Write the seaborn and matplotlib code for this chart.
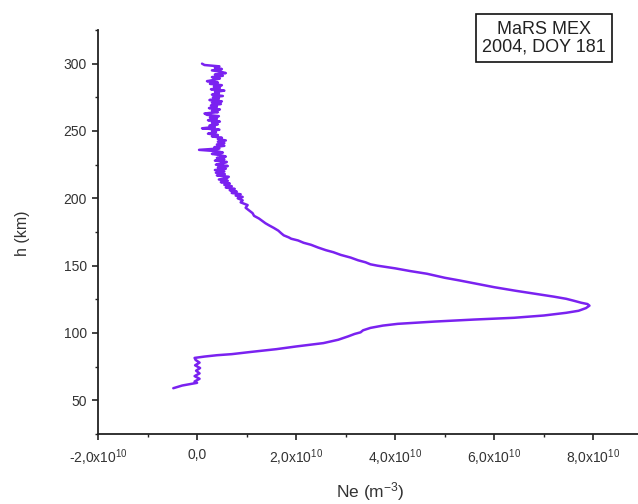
import matplotlib
matplotlib.use("Agg")
import matplotlib.pyplot as plt
import seaborn as sns
import pandas as pd
from matplotlib.ticker import FuncFormatter, MultipleLocator

# Altitude (km) and electron density (units of 1e10 m^-3)
h_km = [59, 61, 62, 63, 64, 66, 68, 70, 72, 74,
        76, 78, 80, 81.5, 82.5, 83.5, 84.3, 86, 88, 90,
        92.5, 95, 97.5, 99.3, 100.5, 102, 103.8, 105.5, 106.8, 108.5,
        110, 111.3, 113, 115, 116.5, 118.5, 120.3, 121.5, 122.5, 124,
        125.4, 127, 129, 131.3, 134, 136.6, 139, 141, 144, 146,
        148, 150, 151, 152.5, 154, 156, 158, 160, 161.5, 163.5,
        165.5, 167, 168.7, 170, 171, 172.5, 174, 176, 178, 180,
        181.5, 183.6, 185, 187, 189, 191, 193, 195, 197, 198.5,
        200, 201, 202, 203, 204, 205, 206, 207, 208, 209,
        210, 211, 212, 213, 214, 215, 216, 217, 218, 219,
        220, 221, 222, 223, 224, 225, 226, 227, 228, 229,
        230, 231, 232, 233, 234, 235, 236, 237, 238, 239,
        240, 241, 242, 243, 244, 245, 246, 247, 248, 249,
        250, 251, 252, 253, 254, 255, 256, 257, 258, 259,
        260, 261, 262, 263, 264, 265, 266, 267, 268, 269,
        270, 271, 272, 273, 274, 275, 276, 277, 278, 279,
        280, 281, 282, 283, 284, 285, 286, 287, 288, 289,
        290, 291, 292, 293, 294, 295, 296, 297, 298, 299,
        300]
ne_1e10 = [-0.48, -0.3, -0.15, 0.0, -0.05, 0.05, -0.05, 0.05, -0.02, 0.06,
           -0.04, 0.05, -0.03, -0.05, 0.15, 0.4, 0.7, 1.1, 1.6, 2.0,
           2.55, 2.85, 3.05, 3.18, 3.3, 3.35, 3.5, 3.75, 4.05, 4.8,
           5.6, 6.4, 7.0, 7.45, 7.7, 7.85, 7.92, 7.88, 7.75, 7.6,
           7.45, 7.2, 6.85, 6.44, 6.0, 5.64, 5.3, 5.0, 4.64, 4.3,
           4.0, 3.64, 3.5, 3.4, 3.25, 3.1, 2.9, 2.75, 2.6, 2.44,
           2.3, 2.15, 2.04, 1.9, 1.85, 1.75, 1.7, 1.64, 1.55, 1.45,
           1.38, 1.3, 1.25, 1.15, 1.12, 1.05, 0.98, 1.02, 0.88, 0.92,
           0.82, 0.92, 0.78, 0.88, 0.70, 0.80, 0.66, 0.76, 0.58, 0.70,
           0.55, 0.66, 0.48, 0.62, 0.44, 0.60, 0.64, 0.40, 0.56, 0.38,
           0.55, 0.36, 0.58, 0.42, 0.62, 0.38, 0.52, 0.60, 0.36, 0.55,
           0.40, 0.58, 0.48, 0.30, 0.52, 0.40, 0.04, 0.45, 0.35, 0.55,
           0.40, 0.55, 0.42, 0.58, 0.42, 0.50, 0.30, 0.42, 0.22, 0.38,
           0.30, 0.45, 0.10, 0.36, 0.25, 0.42, 0.30, 0.46, 0.22, 0.40,
           0.26, 0.44, 0.20, 0.15, 0.42, 0.30, 0.46, 0.24, 0.40, 0.28,
           0.48, 0.30, 0.50, 0.25, 0.44, 0.32, 0.52, 0.30, 0.44, 0.36,
           0.55, 0.28, 0.46, 0.34, 0.50, 0.26, 0.42, 0.20, 0.35, 0.46,
           0.30, 0.52, 0.36, 0.58, 0.48, 0.30, 0.50, 0.36, 0.45, 0.15,
           0.10]

x_ticks = [-2, 0, 2, 4, 6, 8]
y_ticks = [50, 100, 150, 200, 250, 300]
box_text = "MaRS MEX\n2004, DOY 181"

sns.set_style("ticks")
plt.rcParams['font.family'] = ['Liberation Sans', 'DejaVu Sans']
plt.rcParams['mathtext.fontset'] = 'custom'
plt.rcParams['mathtext.rm'] = 'Liberation Sans'
plt.rcParams['mathtext.it'] = 'Liberation Sans'

df = pd.DataFrame({"h": h_km, "ne": [v * 1e10 for v in ne_1e10]})

fig = plt.figure(figsize=(6.38, 5.04), dpi=100)
ax = fig.add_axes([98 / 638, 70 / 504, 1 - 98 / 638, (434 - 30) / 504])
sns.lineplot(data=df, x="ne", y="h", sort=False, estimator=None,
             color="#7a22f0", linewidth=1.8, ax=ax)

ax.set_xlim(-2e10, 8.9e10)
ax.set_ylim(25, 325)
ax.set_xticks([t * 1e10 for t in x_ticks])
ax.set_yticks(y_ticks)
ax.xaxis.set_minor_locator(MultipleLocator(1e10))
ax.yaxis.set_minor_locator(MultipleLocator(25))


def xfmt(v, pos):
    m = v / 1e10
    if abs(m) < 1e-9:
        return "0,0"
    return ("%.1f" % m).replace(".", ",") + "x10$^{10}$"


ax.xaxis.set_major_formatter(FuncFormatter(xfmt))
ax.tick_params(axis="both", which="major", direction="out", length=4,
               width=1.2, labelsize=10, colors="#222222",
               labelcolor="#333333", pad=4)
ax.tick_params(axis="both", which="minor", direction="out", length=2.5,
               width=1.0, colors="#222222")
ax.tick_params(axis="x", which="major", pad=6)
for s in ["top", "right"]:
    ax.spines[s].set_visible(False)
for s in ["left", "bottom"]:
    ax.spines[s].set_linewidth(1.3)
    ax.spines[s].set_color("#222222")

ax.set_xlabel("Ne (m$^{-3}$)", fontsize=12.5, color="#333333")
ax.set_ylabel("h (km)", fontsize=11.5, color="#333333")
ax.xaxis.label.set_va("center")
ax.yaxis.label.set_va("center")
ax.xaxis.set_label_coords((370 - 98) / 540, (434 - 492) / 404)
ax.yaxis.set_label_coords((22 - 98) / 540, (434 - 233) / 404)

fig.text(544 / 638, 1 - 38 / 504, box_text, ha="center", va="center",
         fontsize=13, color="#222222", linespacing=1.05,
         bbox=dict(boxstyle="square,pad=0.35", facecolor="white",
                   edgecolor="#111111", linewidth=1.2))

fig.savefig("out.png", dpi=100, facecolor="white")
